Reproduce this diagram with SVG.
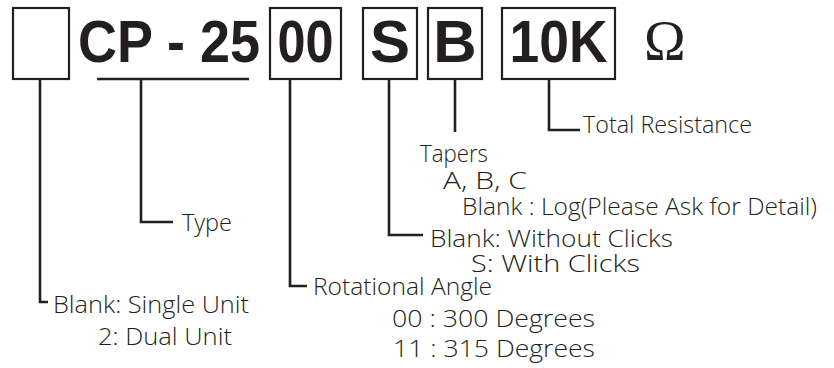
<svg xmlns="http://www.w3.org/2000/svg" width="834" height="368" viewBox="0 0 834 368">
<style>
.box{fill:#fff;stroke:#231f20;stroke-width:2.2}
.big{font-family:"Liberation Sans",Arial,sans-serif;font-weight:bold;font-size:60px;fill:#231f20}
.om{font-family:"Liberation Serif","Times New Roman",serif;font-size:56px;fill:#231f20}
.lbl{font-family:"Open Sans","Liberation Sans",Arial,sans-serif;font-weight:300;font-size:24px;fill:#231f20}
.ln{fill:none;stroke:#231f20;stroke-width:2.6}
</style>
<rect width="834" height="368" fill="#fff"/>
<g id="unit-box"><rect class="box" x="13" y="8" width="56" height="71"/></g>
<g id="type-code"><text class="big" x="78" y="62" textLength="182" lengthAdjust="spacingAndGlyphs">CP - 25</text></g>
<g id="angle-box"><rect class="box" x="270" y="8" width="71" height="71"/><text class="big" x="305.5" y="62" text-anchor="middle" textLength="56" lengthAdjust="spacingAndGlyphs">00</text></g>
<g id="click-box"><rect class="box" x="363" y="8" width="54" height="71"/><text class="big" x="390" y="62" text-anchor="middle">S</text></g>
<g id="taper-box"><rect class="box" x="428" y="8" width="54" height="71"/><text class="big" x="455" y="62" text-anchor="middle">B</text></g>
<g id="resist-box"><rect class="box" x="502" y="8" width="113" height="71"/><text class="big" x="558.5" y="62" text-anchor="middle" textLength="98" lengthAdjust="spacingAndGlyphs">10K</text></g>
<g id="ohm"><text class="om" x="644" y="60">Ω</text></g>
<g id="connectors">
<path class="ln" d="M97,79 H249"/>
<path class="ln" d="M40,79 V302 H48"/>
<path class="ln" d="M141,79 V222 H173"/>
<path class="ln" d="M290,79 V286 H307"/>
<path class="ln" d="M389,79 V235 H423"/>
<path class="ln" d="M455,79 V132"/>
<path class="ln" d="M549,79 V130 H580"/>
</g>
<g id="labels">
<text class="lbl" x="53" y="313" textLength="196" lengthAdjust="spacingAndGlyphs">Blank: Single Unit</text>
<text class="lbl" x="98" y="345" textLength="134" lengthAdjust="spacingAndGlyphs">2: Dual Unit</text>
<text class="lbl" x="182" y="231" textLength="50" lengthAdjust="spacingAndGlyphs">Type</text>
<text class="lbl" x="313" y="295" textLength="179" lengthAdjust="spacingAndGlyphs">Rotational Angle</text>
<text class="lbl" x="392" y="327" textLength="203" lengthAdjust="spacingAndGlyphs">00 : 300 Degrees</text>
<text class="lbl" x="393" y="357" textLength="202" lengthAdjust="spacingAndGlyphs">11 : 315 Degrees</text>
<text class="lbl" x="430" y="247" textLength="243" lengthAdjust="spacingAndGlyphs">Blank:  Without Clicks</text>
<text class="lbl" x="471" y="272" textLength="169" lengthAdjust="spacingAndGlyphs">S:  With Clicks</text>
<text class="lbl" x="420" y="162" textLength="68" lengthAdjust="spacingAndGlyphs">Tapers</text>
<text class="lbl" x="443" y="189" textLength="84" lengthAdjust="spacingAndGlyphs">A, B, C</text>
<text class="lbl" x="462" y="215" textLength="355" lengthAdjust="spacingAndGlyphs">Blank : Log(Please Ask for Detail)</text>
<text class="lbl" x="583" y="133" textLength="169" lengthAdjust="spacingAndGlyphs">Total Resistance</text>
</g>
</svg>
